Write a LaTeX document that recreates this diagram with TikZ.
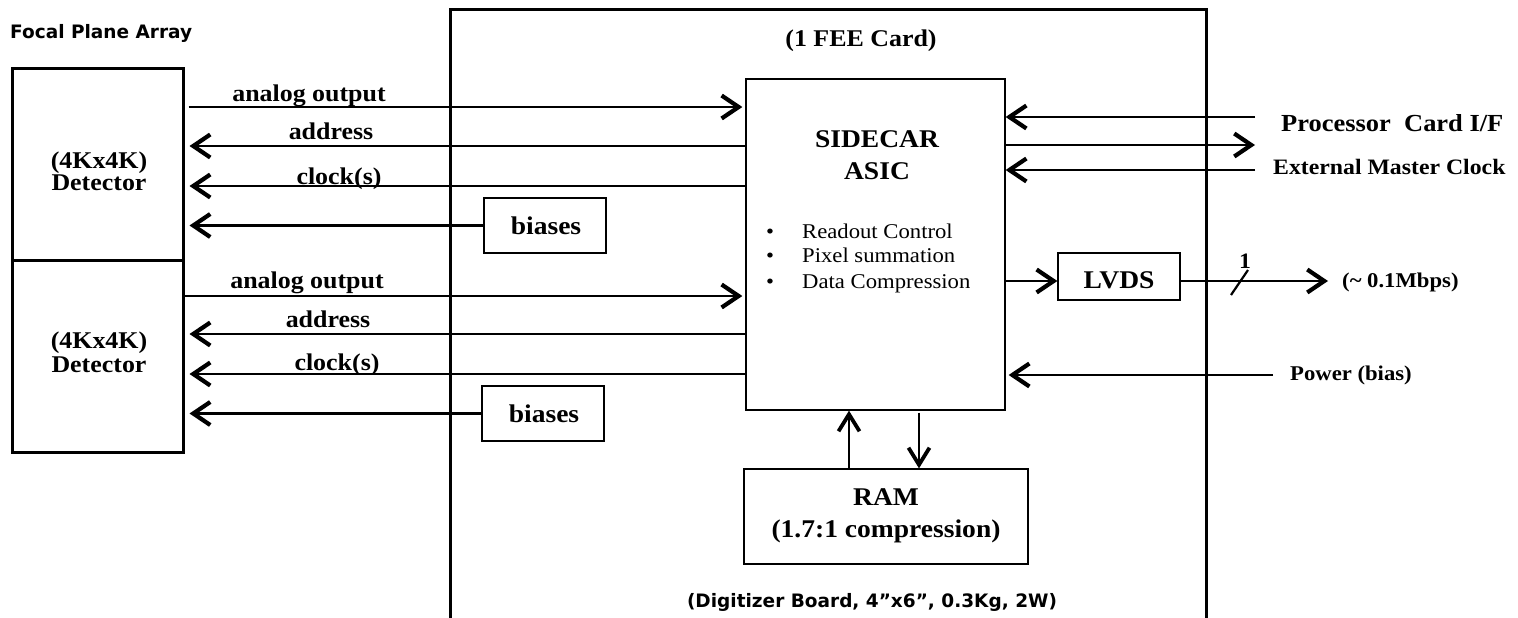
\documentclass[tikz,border=0pt]{standalone}
\usepackage{fontspec}
\setmainfont[FakeStretch=1.08]{Liberation Serif}
\newfontfamily\sansb{DejaVu Sans}
\usetikzlibrary{arrows.meta}
\begin{document}
\begin{tikzpicture}[x=1pt,y=-1pt,
  thickbox/.style={draw, line width=3pt, inner sep=0pt},
  thinbox/.style={draw, line width=1.3pt, inner sep=0pt},
  conn/.style={line width=2.8pt, -{Straight Barb[length=17pt,width=23pt,line width=4.2pt]}},
  vconn/.style={line width=2.3pt, -{Straight Barb[length=17pt,width=21pt,line width=3.8pt]}},
  bl/.style={inner sep=0pt, anchor=base, font=\bfseries\fontsize{24}{28}\selectfont},
  bbox/.style={inner sep=0pt, anchor=base, font=\bfseries\fontsize{25.5}{29}\selectfont},
  rg/.style={inner sep=0pt, anchor=base west, font=\fontsize{21}{24}\selectfont},
  sb/.style={inner sep=0pt, anchor=base, font=\sansb\bfseries\fontsize{18.5}{22}\selectfont}
]
\useasboundingbox (0,0) rectangle (1518,618);

% FEE card frame (bottom edge outside the picture)
\draw[line width=3pt] (450,640) -- (450,10) -- (1206,10) -- (1206,640);

% boxes
\node[thickbox, minimum width=171pt, minimum height=191pt] (det1) at (97.5,164.5) {};
\node[thickbox, minimum width=171pt, minimum height=192pt] (det2) at (97.5,356) {};
\node[thinbox, minimum width=259pt, minimum height=331pt] (sidecar) at (875.5,244.5) {};
\node[thinbox, minimum width=122pt, minimum height=55pt] (bias1) at (545,225.5) {};
\node[thinbox, minimum width=122pt, minimum height=55pt] (bias2) at (543,413.5) {};
\node[thinbox, minimum width=122pt, minimum height=47pt] (lvds) at (1119,276.5) {};
\node[thinbox, minimum width=284pt, minimum height=95pt] (ram) at (886,516.5) {};

% texts
\node[sb, anchor=base west] (fpa) at (10,39) {Focal Plane Array};
\node[bl] (fee) at (861,47) {(1 FEE Card)};
\node[sb] (cap) at (872,607) {(Digitizer Board, 4”x6”, 0.3Kg, 2W)};

\node[bl] (d1a) at (99,168) {(4Kx4K)};
\node[bl] (d1b) at (99,190) {Detector};
\node[bl] (d2a) at (99,348) {(4Kx4K)};
\node[bl] (d2b) at (99,372) {Detector};

\node[bbox] (sc1) at (877,147) {SIDECAR};
\node[bbox] (sc2) at (877,179) {ASIC};
\node[rg] (r1) at (802,238) {Readout Control};
\node[rg] (r2) at (802,262) {Pixel summation};
\node[rg] (r3) at (802,288) {Data Compression};
\node[rg, anchor=base] (b1) at (770,238) {•};
\node[rg, anchor=base] (b2) at (770,262) {•};
\node[rg, anchor=base] (b3) at (770,288) {•};

\node[bbox] (bt1) at (546,234) {biases};
\node[bbox] (bt2) at (544,422) {biases};
\node[bbox] (lt) at (1119,288) {LVDS};
\node[bbox] (rt1) at (886,505) {RAM};
\node[bbox] (rt2) at (886,537) {(1.7:1 compression)};

\node[bl] (la1) at (309,102) {analog output};
\node[bl] (ld1) at (331,139) {address};
\node[bl] (lc1) at (339,184) {clock(s)};
\node[bl] (la2) at (307,288) {analog output};
\node[bl] (ld2) at (328,327) {address};
\node[bl] (lc2) at (337,370) {clock(s)};

\node[bl, anchor=base west, font=\bfseries\fontsize{24.5}{28}\selectfont] (pc) at (1281,131) {Processor\ \ Card I/F};
\node[bl, anchor=base west, font=\bfseries\fontsize{22}{26}\selectfont] (emc) at (1273,174) {External Master Clock};
\node[bl, anchor=base west, font=\bfseries\fontsize{21}{24}\selectfont] (mb) at (1342,287) {(\textasciitilde{} 0.1Mbps)};
\node[bl, anchor=base west, font=\bfseries\fontsize{21}{24}\selectfont] (pb) at (1290,380) {Power (bias)};
\node[bl, font=\bfseries\fontsize{22}{24}\selectfont] (one) at (1245,268) {1};

% left connectors
\coordinate (a1) at (0,107);
\coordinate (d1) at (0,146);
\coordinate (c1) at (0,186);
\coordinate (a2) at (0,296);
\coordinate (d2) at (0,334);
\coordinate (c2) at (0,374);
\draw[conn, shorten <=4pt, shorten >=3pt] (det1.east |- a1) -- (sidecar.west |- a1);
\draw[conn, shorten >=5pt] (sidecar.west |- d1) -- (det1.east |- d1);
\draw[conn, shorten >=5pt] (sidecar.west |- c1) -- (det1.east |- c1);
\draw[conn, shorten >=5pt] (bias1.west) -- (det1.east |- bias1.west);
\draw[conn, shorten >=3pt] (det2.east |- a2) -- (sidecar.west |- a2);
\draw[conn, shorten >=5pt] (sidecar.west |- d2) -- (det2.east |- d2);
\draw[conn, shorten >=5pt] (sidecar.west |- c2) -- (det2.east |- c2);
\draw[conn, shorten >=5pt] (bias2.west) -- (det2.east |- bias2.west);

% right connectors
\coordinate (p1) at (1255,117);
\coordinate (p2) at (1255,145);
\coordinate (p3) at (1255,170);
\coordinate (pw) at (1273,375);
\coordinate (lv) at (0,281);
\coordinate (out) at (1328,281);
\draw[conn] (p1) -- (sidecar.east |- p1);
\draw[conn] (sidecar.east |- p2) -- (p2);
\draw[conn] (p3) -- (sidecar.east |- p3);
\draw[conn, shorten >=3pt] (pw) -- (sidecar.east |- pw);
\draw[conn] (sidecar.east |- lv) -- (lvds.west |- lv);
\draw[conn] (lvds.east |- out) -- (out);
\draw[line width=2.2pt] (1231,295) -- (1248,270);

% RAM connectors
\coordinate (u) at (849,0);
\coordinate (dn) at (919,0);
\draw[vconn] (ram.north -| u) -- (sidecar.south -| u);
\draw[vconn, shorten <=2pt] (sidecar.south -| dn) -- (ram.north -| dn);
\end{tikzpicture}
\end{document}
